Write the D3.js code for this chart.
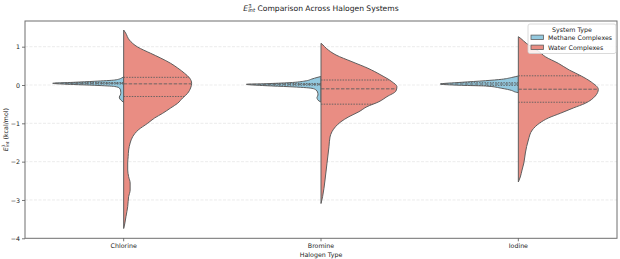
<!DOCTYPE html>
<html>
<head>
<meta charset="utf-8">
<script src="https://cdn.jsdelivr.net/npm/d3@7"></script>
<style>
  body { margin: 0; background: #fff; }
  svg { display: block; font-family: "DejaVu Sans", sans-serif; }
</style>
</head>
<body>
<svg width="620" height="259"></svg>
<script>
var halogens = ["Chlorine", "Bromine", "Iodine"];
var systems = ["Methane Complexes", "Water Complexes"];
var yTicks = [-4, -3, -2, -1, 0, 1];

// violin outlines: E (kcal/mol) and relative density
var chlorineMethaneE = [0.222, 0.183, 0.130, 0.097, 0.070, 0.044, 0.013, -0.008, -0.039, -0.078, -0.130, -0.196, -0.261, -0.313, -0.365, -0.417, -0.457];
var chlorineMethaneD = [0, 0.025, 0.114, 0.367, 0.633, 0.899, 0.633, 0.367, 0.114, 0.055, 0.040, 0.036, 0.042, 0.055, 0.048, 0.022, 0];
var chlorineWaterE = [1.435, 1.357, 1.174, 0.991, 0.827, 0.704, 0.566, 0.444, 0.305, 0.183, 0.044, -0.078, -0.217, -0.339, -0.477, -0.600, -0.738, -0.861, -0.999, -1.174, -1.349, -1.513, -1.696, -1.871, -2.035, -2.218, -2.392, -2.557, -2.739, -2.914, -3.175, -3.436, -3.627, -3.744];
var chlorineWaterD = [0, 0.025, 0.072, 0.177, 0.342, 0.468, 0.595, 0.684, 0.772, 0.835, 0.861, 0.848, 0.810, 0.747, 0.684, 0.595, 0.494, 0.392, 0.304, 0.184, 0.114, 0.082, 0.063, 0.057, 0.051, 0.051, 0.063, 0.082, 0.082, 0.063, 0.051, 0.029, 0.013, 0];

var bromineMethaneE = [0.222, 0.196, 0.157, 0.104, 0.060, 0.034, 0.018, -0.018, -0.044, -0.086, -0.130, -0.183, -0.261, -0.326, -0.378, -0.417, -0.444];
var bromineMethaneD = [0, 0.051, 0.114, 0.203, 0.405, 0.696, 0.946, 0.696, 0.405, 0.114, 0.063, 0.044, 0.038, 0.051, 0.044, 0.025, 0];
var bromineWaterE = [1.088, 1.044, 0.957, 0.783, 0.608, 0.436, 0.261, 0.086, -0.044, -0.157, -0.305, -0.436, -0.566, -0.697, -0.827, -0.957, -1.088, -1.218, -1.357, -1.610, -2.043, -2.478, -2.914, -3.092];
var bromineWaterD = [0, 0.025, 0.067, 0.190, 0.392, 0.595, 0.759, 0.899, 0.962, 0.949, 0.835, 0.734, 0.582, 0.481, 0.354, 0.253, 0.184, 0.139, 0.114, 0.101, 0.076, 0.051, 0.020, 0];

var iodineMethaneE = [0.235, 0.196, 0.149, 0.112, 0.070, 0.026, -0.008, -0.026, -0.086, -0.143, -0.183, -0.201];
var iodineMethaneD = [0, 0.084, 0.210, 0.418, 0.722, 0.987, 0.722, 0.418, 0.210, 0.084, 0.038, 0];
var iodineWaterE = [1.260, 1.213, 1.088, 0.999, 0.887, 0.738, 0.566, 0.391, 0.235, 0.078, -0.112, -0.287, -0.477, -0.600, -0.738, -0.861, -0.999, -1.174, -1.435, -1.774, -2.035, -2.218, -2.400, -2.531];
var iodineWaterD = [0, 0.032, 0.101, 0.165, 0.253, 0.342, 0.506, 0.646, 0.797, 0.924, 1.013, 0.975, 0.848, 0.696, 0.532, 0.380, 0.266, 0.177, 0.127, 0.089, 0.070, 0.047, 0.025, 0];

// quartiles (Q3, median, Q1)
var chlorineMethaneQ = [0.065, 0.045, 0.025];
var chlorineWaterQ = [0.20, 0.03, -0.30];
var bromineMethaneQ = [0.040, 0.018, -0.005];
var bromineWaterQ = [0.13, -0.10, -0.50];
var iodineMethaneQ = [0.060, 0.026, -0.010];
var iodineWaterQ = [0.24, -0.11, -0.45];

var colors = ["#93c9df", "#e98d83"];
var edge = "#5e5e5e";

var svg = d3.select("svg");
var plot = { left: 25, right: 617, top: 21, bottom: 238.3 };

var x = d3.scaleBand().domain(halogens).range([plot.left, plot.right]);
var y = d3.scaleLinear().domain([-4, 1.67]).range([plot.bottom, plot.top]);
var w = d3.scaleLinear().domain([0, 1]).range([0, x.bandwidth() * 0.4]);

var violins = [
    { h: "Chlorine", s: 0, e: chlorineMethaneE, d: chlorineMethaneD, q: chlorineMethaneQ },
    { h: "Chlorine", s: 1, e: chlorineWaterE, d: chlorineWaterD, q: chlorineWaterQ },
    { h: "Bromine", s: 0, e: bromineMethaneE, d: bromineMethaneD, q: bromineMethaneQ },
    { h: "Bromine", s: 1, e: bromineWaterE, d: bromineWaterD, q: bromineWaterQ },
    { h: "Iodine", s: 0, e: iodineMethaneE, d: iodineMethaneD, q: iodineMethaneQ },
    { h: "Iodine", s: 1, e: iodineWaterE, d: iodineWaterD, q: iodineWaterQ }
];

// grid
svg.append("g")
    .selectAll("line")
    .data(yTicks.filter(function (t) { return t > -4; }))
    .enter().append("line")
    .attr("x1", plot.left).attr("x2", plot.right)
    .attr("y1", function (d) { return y(d); })
    .attr("y2", function (d) { return y(d); })
    .attr("stroke", "#c4c4c4")
    .attr("stroke-opacity", 0.4)
    .attr("stroke-width", 0.8)
    .attr("stroke-dasharray", "3,1.5");

function densityAt(v, es, ds) {
    for (var i = 0; i < es.length - 1; i++) {
        if (v <= es[i] && v >= es[i + 1]) {
            var t = (es[i] - v) / (es[i] - es[i + 1]);
            return ds[i] + t * (ds[i + 1] - ds[i]);
        }
    }
    return 0;
}

var g = svg.append("g");

violins.forEach(function (v) {
    var cx = x(v.h) + x.bandwidth() / 2;
    var side = v.s === 0 ? -1 : 1;
    var pts = v.e.map(function (e, i) { return [e, v.d[i]]; });
    var line = d3.line()
        .x(function (p) { return cx + side * w(p[1]); })
        .y(function (p) { return y(p[0]); })
        .curve(d3.curveMonotoneY);
    var dStr = line(pts) + "L" + cx + "," + y(v.e[v.e.length - 1]) + "L" + cx + "," + y(v.e[0]) + "Z";

    g.append("path")
        .attr("d", dStr)
        .attr("fill", colors[v.s])
        .attr("stroke", edge)
        .attr("stroke-width", 1)
        .attr("stroke-linejoin", "round");

    g.selectAll(null)
        .data(v.q)
        .enter().append("line")
        .attr("x1", cx)
        .attr("x2", function (q) { return cx + side * w(densityAt(q, v.e, v.d)); })
        .attr("y1", function (q) { return y(q); })
        .attr("y2", function (q) { return y(q); })
        .attr("stroke", edge)
        .attr("stroke-width", 0.9)
        .attr("stroke-dasharray", function (q, i) { return i === 1 ? "3.5,1.5" : "1.5,1.2"; });
});

// frame
svg.append("rect")
    .attr("x", plot.left).attr("y", plot.top)
    .attr("width", plot.right - plot.left)
    .attr("height", plot.bottom - plot.top)
    .attr("fill", "none")
    .attr("stroke", "#6f6f6f")
    .attr("stroke-width", 1);

// axes
var yAxis = svg.append("g")
    .attr("transform", "translate(" + plot.left + ",0)")
    .call(d3.axisLeft(y).tickValues(yTicks).tickFormat(d3.format("d")).tickSize(3).tickPadding(2));
var xAxis = svg.append("g")
    .attr("transform", "translate(0," + plot.bottom + ")")
    .call(d3.axisBottom(x).tickSize(3).tickPadding(2));
[yAxis, xAxis].forEach(function (a) {
    a.select(".domain").remove();
    a.selectAll("line").attr("stroke", "#555").attr("stroke-width", 0.8);
    a.selectAll("text").attr("fill", "#222").attr("font-size", 6.3)
        .attr("font-family", "DejaVu Sans");
});

function mathE(sel, fs, rest) {
    var small = fs * 0.7;
    var adv = small * 0.636;
    sel.append("tspan").attr("font-style", "italic").text("E");
    sel.append("tspan").attr("font-size", small).attr("dy", -fs * 0.38).text("3");
    sel.append("tspan").attr("font-size", small).attr("font-style", "italic")
        .attr("dx", -adv).attr("dy", fs * 0.62).text("int");
    sel.append("tspan").attr("dy", -fs * 0.24).text(rest);
}

var title = svg.append("text")
    .attr("x", (plot.left + plot.right) / 2)
    .attr("y", 10.5)
    .attr("text-anchor", "middle")
    .attr("font-size", 7.6)
    .attr("fill", "#222");
mathE(title, 7.6, " Comparison Across Halogen Systems");

svg.append("text")
    .attr("x", (plot.left + plot.right) / 2)
    .attr("y", 256.5)
    .attr("text-anchor", "middle")
    .attr("font-size", 6.3)
    .attr("fill", "#222")
    .text("Halogen Type");

var ylab = svg.append("text")
    .attr("transform", "translate(7.5," + ((plot.top + plot.bottom) / 2) + ") rotate(-90)")
    .attr("text-anchor", "middle")
    .attr("font-size", 6.3)
    .attr("fill", "#222");
mathE(ylab, 6.3, " (kcal/mol)");

// legend
var legend = svg.append("g").attr("transform", "translate(528,24)");
legend.append("rect")
    .attr("width", 88).attr("height", 29.5)
    .attr("rx", 2)
    .attr("fill", "#fff").attr("fill-opacity", 0.85)
    .attr("stroke", "#d0d0d0").attr("stroke-width", 0.8);
legend.append("text")
    .attr("x", 44).attr("y", 7.5)
    .attr("text-anchor", "middle")
    .attr("font-size", 6.3)
    .attr("fill", "#222")
    .text("System Type");
var items = legend.selectAll("g.item")
    .data(systems)
    .enter().append("g")
    .attr("class", "item")
    .attr("transform", function (d, i) { return "translate(3," + (13.3 + i * 10) + ")"; });
items.append("rect")
    .attr("y", -2.2).attr("width", 12.5).attr("height", 4.4)
    .attr("fill", function (d, i) { return colors[i]; })
    .attr("stroke", edge).attr("stroke-width", 0.8);
items.append("text")
    .attr("x", 17).attr("y", 2.3)
    .attr("font-size", 6.3)
    .attr("fill", "#222")
    .text(function (d) { return d; });
</script>
</body>
</html>
